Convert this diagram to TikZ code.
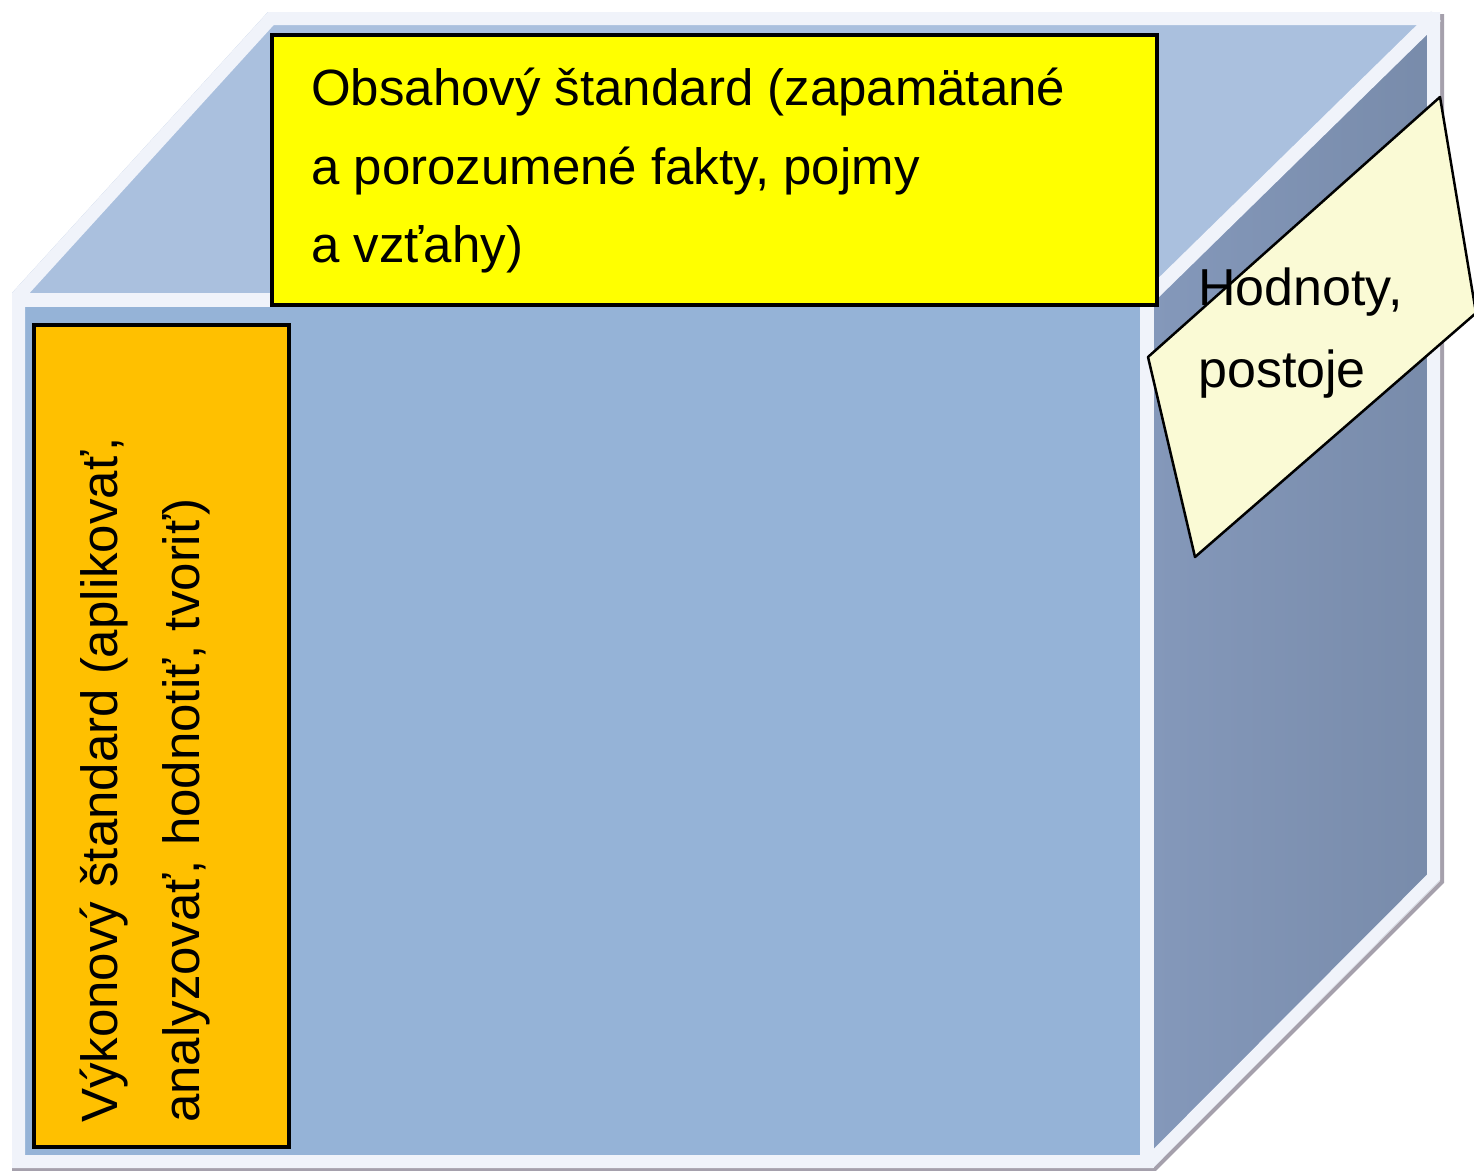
\documentclass[tikz,border=0pt]{standalone}
\usepackage{fontspec}
\setmainfont{Liberation Sans}
\definecolor{topc}{RGB}{170,192,222}
\definecolor{frontc}{RGB}{149,179,215}
\definecolor{rightl}{RGB}{132,152,186}
\definecolor{rightd}{RGB}{120,139,170}
\definecolor{edgec}{RGB}{240,243,250}
\definecolor{shadowc}{RGB}{165,160,172}
\definecolor{orangec}{RGB}{255,192,0}
\definecolor{notec}{RGB}{250,250,213}
\definecolor{yellowc}{RGB}{255,255,0}
\begin{document}
\begin{tikzpicture}[x=1pt,y=-1pt,
  edge/.style={draw=edgec, line width=14pt},
  box/.style={draw=black, line width=3.5pt, inner sep=0pt, anchor=north west},
  txt/.style={inner sep=0pt, align=left, anchor=north west}]
\useasboundingbox (0,0) rectangle (1474,1170);
\fill[white] (0,0) rectangle (1474,1170);
% cube corners
\coordinate (FTL) at (12,293);
\coordinate (FTR) at (1153,293);
\coordinate (FBR) at (1153,1168);
\coordinate (FBL) at (12,1168);
\coordinate (BTL) at (268,12);
\coordinate (BTR) at (1440,12);
\coordinate (BBR) at (1440,880);
% faces
\fill[topc] (FTL) -- (BTL) -- (BTR) -- (FTR) -- cycle;
\fill[frontc] (FTL) rectangle (FBR);
\shade[left color=rightl, right color=rightd] (FTR) -- (BTR) -- (BBR) -- (FBR) -- cycle;
% outer shadow
\draw[shadowc, line width=4pt] (1442,14) -- (1442,882) -- (1155,1169) -- (12,1169);
% white frame on silhouette
\begin{scope}
  \clip (FBL) -- (FTL) -- (BTL) -- (BTR) -- (BBR) -- (FBR) -- cycle;
  \draw[draw=edgec, line width=26pt] (FBL) -- (FTL) -- (BTL) -- (BTR) -- (BBR) -- (FBR) -- cycle;
\end{scope}
% inner edges
\draw[edge] (12,300) -- (1153,300);
\draw[edge] (1147,293) -- (1147,1168);
\draw[edge] (1148,298) -- (1436,16);
% content standard
\node[box, fill=yellowc, minimum width=885pt, minimum height=270pt] (obsah) at (270,33) {};
\node[txt, font=\fontsize{51}{78.5}\selectfont] (obsahtxt) at (311,68)
  {Obsahový štandard (zapamätané\\a porozumené fakty, pojmy\\a vzťahy)};
% performance standard
\node[box, fill=orangec, minimum width=255pt, minimum height=822pt] (vykon) at (32,323) {};
\node[txt, rotate=90, font=\fontsize{51}{82}\selectfont] (vykontxt) at (80,1123)
  {Výkonový štandard (aplikovať,\\analyzovať, hodnotiť, tvoriť)};
% values note
\draw[fill=notec, draw=black, line width=2.5pt, line join=round]
  (1440,97) -- (1476,313) -- (1195,557) -- (1148,357) -- cycle;
\node[txt, font=\fontsize{52}{82}\selectfont] (hodnoty) at (1198,268)
  {Hodnoty,\\postoje};
\end{tikzpicture}
\end{document}
